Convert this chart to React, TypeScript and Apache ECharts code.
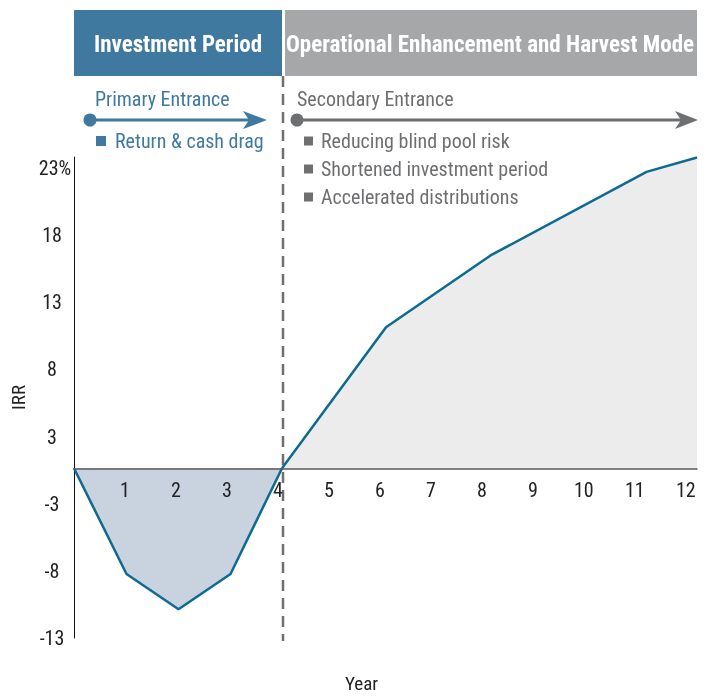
import React, { useEffect, useRef } from 'react';
import * as echarts from 'echarts';

// ---- data ----
const years = [0, 1.03, 2.05, 3.07, 4.08, 6.12, 8.17, 11.23, 12.22];
const irr = [0, -8.1, -10.8, -8.1, 0, 10.8, 16.3, 22.7, 23.8];
const crossIndex = 4; // where IRR returns to zero
const yTickLabels = ['-13', '-8', '-3', '3', '8', '13', '18', '23%'];
const yMin = -13;
const yTop = 23;
const yMax = 23.84;
const xMax = 12.22;
const headers = ['Investment Period', 'Operational Enhancement and Harvest Mode'];
const primaryTitle = 'Primary Entrance';
const primaryBullets = ['Return & cash drag'];
const secondaryTitle = 'Secondary Entrance';
const secondaryBullets = ['Reducing blind pool risk', 'Shortened investment period', 'Accelerated distributions'];

const FONT = '"Liberation Sans Narrow", "Arial Narrow", "Roboto Condensed", Roboto, sans-serif';
const BLUE = '#3f79a0';
const GRAY = '#6e6f71';

const GRID_TOP = 157;
const GRID_BOTTOM = 62;
const CHART_H = 700;

const negData = years.slice(0, crossIndex + 1).map((x, i) => [x, irr[i]]);
const posData = years.slice(crossIndex).map((x, i) => [x, irr[i + crossIndex]]);

const yStep = (yTop - yMin) / (yTickLabels.length - 1);
// move the x axis (line + labels) up to the zero line
const gridH = CHART_H - GRID_TOP - GRID_BOTTOM;
const zeroOffset = -((0 - yMin) / (yMax - yMin)) * gridH;

function txt(text: string, x: number, y: number, fill: string, size: number, weight = 'normal', align = 'left') {
  return {
    type: 'text',
    x,
    y,
    style: {
      text,
      fill,
      font: `${weight} ${size}px ${FONT}`,
      align,
      verticalAlign: 'middle',
      textAlign: align,
      textVerticalAlign: 'middle',
    },
  };
}

export default function App() {
  const ref = useRef<HTMLDivElement>(null);
  useEffect(() => {
    const chart = echarts.init(ref.current!, null, { renderer: 'svg' });
    const graphic: any[] = [
      { type: 'rect', shape: { x: 74, y: 10, width: 208, height: 66 }, style: { fill: BLUE } },
      { type: 'rect', shape: { x: 285, y: 10, width: 412, height: 66 }, style: { fill: '#a6a7a9' } },
      txt(headers[0], 178, 44, '#ffffff', 23, 'bold', 'center'),
      txt(headers[1], 490, 44, '#ffffff', 23, 'bold', 'center'),
      { type: 'line', shape: { x1: 283, y1: 76, x2: 283, y2: 641 }, style: { stroke: '#6f6f6f', lineWidth: 2.5, lineDash: [11, 7] } },
      // primary arrow
      txt(primaryTitle, 95, 99, BLUE, 20),
      { type: 'line', shape: { x1: 90, y1: 120, x2: 252, y2: 120 }, style: { stroke: BLUE, lineWidth: 3 } },
      { type: 'circle', shape: { cx: 90, cy: 120, r: 6.5 }, style: { fill: BLUE } },
      { type: 'polygon', shape: { points: [[243, 111], [267, 120], [243, 129], [249, 120]] }, style: { fill: BLUE } },
      // secondary arrow
      txt(secondaryTitle, 297, 99, GRAY, 20),
      { type: 'line', shape: { x1: 297, y1: 120, x2: 684, y2: 120 }, style: { stroke: GRAY, lineWidth: 3 } },
      { type: 'circle', shape: { cx: 297, cy: 120, r: 6.5 }, style: { fill: GRAY } },
      { type: 'polygon', shape: { points: [[675, 111], [698, 120], [675, 129], [681, 120]] }, style: { fill: GRAY } },
    ];
    primaryBullets.forEach((b, i) => {
      const y = 141 + i * 28;
      graphic.push({ type: 'rect', shape: { x: 96, y: y - 5, width: 10, height: 10 }, style: { fill: BLUE } });
      graphic.push(txt(b, 115, y, BLUE, 20));
    });
    secondaryBullets.forEach((b, i) => {
      const y = 141 + i * 28;
      graphic.push({ type: 'rect', shape: { x: 304, y: y - 4.5, width: 9, height: 9 }, style: { fill: GRAY } });
      graphic.push(txt(b, 321, y, GRAY, 20));
    });

    chart.setOption({
      animation: false,
      textStyle: { fontFamily: FONT },
      grid: { left: 74, right: 10, top: GRID_TOP, bottom: GRID_BOTTOM, containLabel: false, outerBoundsMode: 'none' },
      xAxis: {
        type: 'value',
        z: 10,
        min: 0,
        max: xMax,
        interval: 1,
        offset: zeroOffset,
        name: 'Year',
        nameLocation: 'middle',
        nameGap: 206,
        nameTextStyle: { fontSize: 19, color: '#222', fontFamily: FONT, padding: [0, 48, 0, 0] },
        axisLine: { onZero: false, lineStyle: { color: '#595959', width: 1.5 } },
        axisTick: { show: false },
        splitLine: { show: false },
        axisLabel: {
          margin: 12,
          fontSize: 20,
          color: '#222',
          fontFamily: FONT,
          formatter: (v: number) => (v >= 1 && Math.abs(v - Math.round(v)) < 1e-6 ? String(Math.round(v)) : ''),
        },
      },
      yAxis: {
        type: 'value',
        min: yMin,
        max: yMax,
        interval: yStep,
        name: 'IRR',
        nameLocation: 'middle',
        nameRotate: 90,
        nameGap: 36,
        nameTextStyle: { fontSize: 19, color: '#222', fontFamily: FONT },
        axisLine: { show: true, onZero: false, lineStyle: { color: '#111', width: 1 } },
        axisTick: { show: false },
        splitLine: { show: false },
        axisLabel: {
          margin: 22,
          align: 'center',
          fontSize: 20,
          color: '#222',
          fontFamily: FONT,
          formatter: (v: number) => {
            const idx = Math.round((v - yMin) / yStep);
            if (idx < 0 || idx >= yTickLabels.length) return '';
            if (Math.abs(v - (yMin + idx * yStep)) > 0.01) return '';
            const l = yTickLabels[idx];
            return idx === yTickLabels.length - 1 ? `{p|${l}}` : l;
          },
          rich: { p: { fontSize: 20, color: '#222', fontFamily: FONT, padding: [0, 0, 0, 6] } },
        },
      },
      graphic,
      series: [
        {
          type: 'line',
          data: negData,
          symbol: 'none',
          lineStyle: { color: '#0d6a91', width: 2.5 },
          areaStyle: { color: '#c9d2df', opacity: 1, origin: 0 },
        },
        {
          type: 'line',
          data: posData,
          symbol: 'none',
          lineStyle: { color: '#0d6a91', width: 2.5 },
          areaStyle: { color: '#ececec', opacity: 1, origin: 0 },
        },
      ],
    });
    return () => chart.dispose();
  }, []);
  return <div ref={ref} style={{ position: 'fixed', left: 0, top: 0, width: 707, height: 700 }} />;
}
